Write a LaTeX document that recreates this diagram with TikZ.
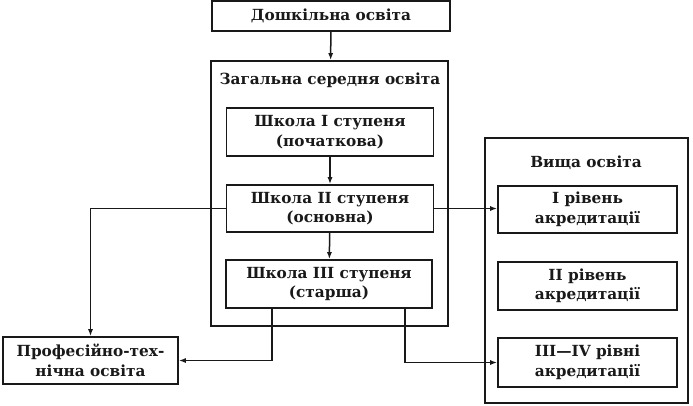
\documentclass[tikz,border=0pt]{standalone}
\usepackage{fontspec}
\setmainfont{DejaVu Serif}
\usepackage{tikz}
\usetikzlibrary{arrows.meta}
\usepackage{xcolor}
\definecolor{ColInk}{RGB}{25,25,25}
\definecolor{ColPaper}{RGB}{255,255,255}
\tikzstyle{BoxEdu}=[rectangle,draw=ColInk,line width=1.6pt,inner sep=0pt,align=center,
font=\bfseries\fontsize{15.3}{19.5}\selectfont,text=ColInk]
\tikzstyle{FrameEdu}=[rectangle,draw=ColInk,line width=1.6pt,inner sep=0pt]
\tikzstyle{TitleEdu}=[inner sep=0pt,font=\bfseries\fontsize{15.3}{19.5}\selectfont,text=ColInk]
\tikzstyle{ArrowEdu}=[ColInk,line width=1.5pt,-{Latex[length=7pt,width=5pt]}]

\begin{document}
\begin{tikzpicture}[x=1pt,y=-1pt]
        \useasboundingbox[fill=ColPaper](0,0)rectangle(693,405);
        \node[BoxEdu,minimum width=238pt,minimum height=30pt](preschool)at(331,16){Дошкільна освіта};
        \node[FrameEdu,minimum width=237pt,minimum height=265pt](general)at(329.5,193.5){};
        \node[TitleEdu](generalT)at(330,80){Загальна середня освіта};
        \node[BoxEdu,minimum width=207pt,minimum height=48pt](school1)at(330,132){Школа I ступеня\\(початкова)};
        \node[BoxEdu,minimum width=207pt,minimum height=47pt](school2)at(330,208.5){Школа II ступеня\\(основна)};
        \node[BoxEdu,minimum width=206pt,minimum height=48pt](school3)at(329,284){Школа III ступеня\\(старша)};
        \node[BoxEdu,minimum width=175pt,minimum height=47pt](prof)at(90.5,360.5){Професійно-тех-\\нічна освіта};
        \node[FrameEdu,minimum width=203pt,minimum height=265pt](higher)at(586.5,270.5){};
        \node[TitleEdu](higherT)at(586,163){Вища освіта};
        \node[BoxEdu,minimum width=179pt,minimum height=47pt](level1)at(587.5,209.5){I рівень\\акредитації};
        \node[BoxEdu,minimum width=179pt,minimum height=48pt](level2)at(587.5,286){II рівень\\акредитації};
        \node[BoxEdu,minimum width=179pt,minimum height=49pt](level34)at(587.5,362.5){III—IV рівні\\акредитації};
        \draw[ArrowEdu](preschool)--(general);
        \draw[ArrowEdu](school1)--(school2);
        \draw[ArrowEdu](school2)--(school3);
        \draw[ArrowEdu](school2.west)-|(prof.north);
        \draw[ArrowEdu](school2.east)--(school2.east-|level1.west);
        \draw[ArrowEdu]([xshift=-57pt]school3.south)|-(prof.east);
        \draw[ArrowEdu]([xshift=76pt]school3.south)|-(level34.west);
    \end{tikzpicture}
\end{document}
